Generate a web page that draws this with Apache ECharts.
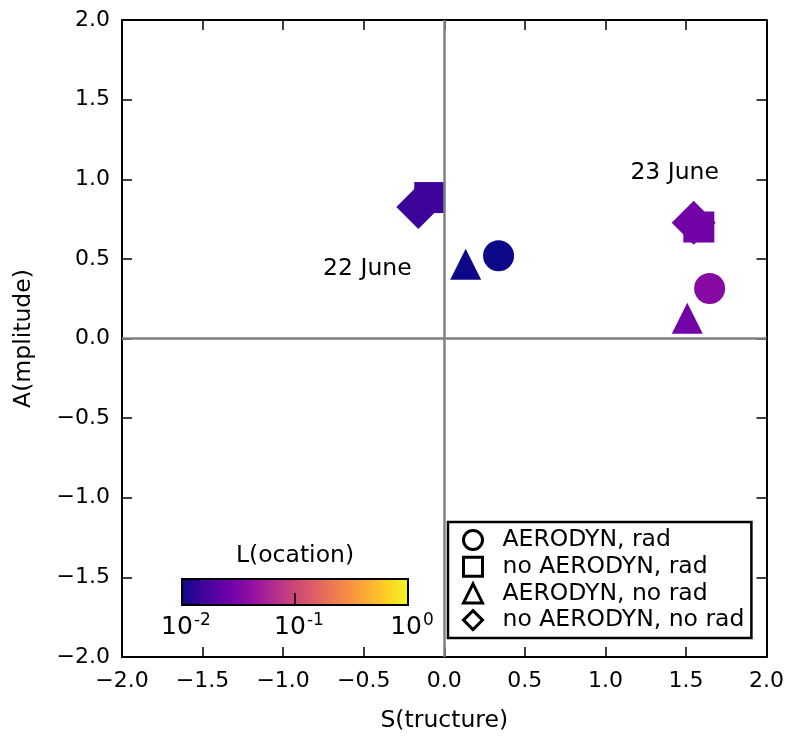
<!DOCTYPE html>
<html>
<head>
<meta charset="utf-8">
<script src="https://cdn.jsdelivr.net/npm/echarts@6/dist/echarts.min.js"></script>
<style>
  html, body { margin: 0; padding: 0; background: #fff; }
  #chart { width: 787px; height: 738px; }
</style>
</head>
<body>
<div id="chart"></div>
<script>
// Experiments (one marker shape each)
const experiments = ['AERODYN, rad', 'no AERODYN, rad', 'AERODYN, no rad', 'no AERODYN, no rad'];
const shapes = ['circle', 'rect', 'triangle', 'diamond'];
const shapeSizes = [31, 31, 31, 44];

// 22 June: S(tructure), A(mplitude), L(ocation) per experiment
const june22S = [0.337, -0.09, 0.133, -0.161];
const june22A = [0.52, 0.885, 0.466, 0.826];
const june22L = [0.010, 0.0151, 0.010, 0.0151];

// 23 June
const june23S = [1.647, 1.58, 1.508, 1.548];
const june23A = [0.314, 0.70, 0.127, 0.727];
const june23L = [0.036, 0.0275, 0.0275, 0.0275];

// Date annotations
const noteText = ['22 June', '23 June'];
const noteS = [-0.477, 1.43];
const noteA = [0.44, 1.043];

// Axis ticks and colour scale range (log10 of L)
const axisTicks = [-2.0, -1.5, -1.0, -0.5, 0.0, 0.5, 1.0, 1.5, 2.0];
const colorbarExponents = [-2, -1, 0];

const plasma = ['#0d0887', '#41049d', '#6a00a8', '#8f0da4', '#b12a90', '#cc4778',
                '#e16462', '#f2844b', '#fca636', '#fcce25', '#f0f921'];

const FONT = 'DejaVu Sans';
const TEXT = 23.5;
const TICK = 22;
const fmt = v => (v < 0 ? '\u2212' : '') + Math.abs(v).toFixed(1);

const chart = echarts.init(document.getElementById('chart'), null, { renderer: 'canvas' });

const expSeries = experiments.map((name, i) => ({
  name: name,
  type: 'scatter',
  symbol: shapes[i],
  symbolSize: shapeSizes[i],
  itemStyle: { opacity: 1 },
  z: 3,
  data: [
    [june22S[i], june22A[i], Math.log10(june22L[i])],
    [june23S[i], june23A[i], Math.log10(june23L[i])]
  ]
}));

const axisCommon = {
  type: 'value', min: axisTicks[0], max: axisTicks[axisTicks.length - 1], interval: 0.5,
  axisLine: { show: true, onZero: false, lineStyle: { color: '#000', width: 2 } },
  axisTick: { show: true, inside: true, length: 10, lineStyle: { color: '#000', width: 1.5 } },
  splitLine: { show: false },
  axisLabel: { fontFamily: FONT, fontSize: TICK, color: '#000', formatter: fmt }
};

// Colorbar geometry
const cbL = 182, cbT = 579, cbW = 226, cbH = 26;
const cbStops = plasma.map((c, i) => ({ offset: i / (plasma.length - 1), color: c }));
const cbMin = colorbarExponents[0], cbMax = colorbarExponents[colorbarExponents.length - 1];
const cbX = e => cbL + (e - cbMin) / (cbMax - cbMin) * cbW;

const graphics = [
  {
    type: 'rect', shape: { x: cbL, y: cbT, width: cbW, height: cbH },
    style: { fill: new echarts.graphic.LinearGradient(0, 0, 1, 0, cbStops), stroke: '#000', lineWidth: 2 },
    z: 10
  },
  {
    type: 'text', x: cbL + cbW / 2, y: 556,
    style: { text: 'L(ocation)', fontFamily: FONT, fontSize: TEXT, fill: '#000', align: 'center', verticalAlign: 'middle' },
    z: 10
  }
];
colorbarExponents.forEach((e, i) => {
  if (i > 0 && i < colorbarExponents.length - 1) {
    graphics.push({
      type: 'line', shape: { x1: cbX(e), y1: cbT + cbH - 12, x2: cbX(e), y2: cbT + cbH },
      style: { stroke: '#000', lineWidth: 1.5 }, z: 11
    });
  }
  graphics.push({
    type: 'text', x: cbX(e) + 4, y: 627,
    style: {
      text: '{b|10}{s|' + (e < 0 ? '-' : '') + Math.abs(e) + '}',
      align: 'center', verticalAlign: 'middle',
      rich: {
        b: { fontFamily: FONT, fontSize: 25, fill: '#000', color: '#000' },
        s: { fontFamily: FONT, fontSize: 17, fill: '#000', color: '#000', verticalAlign: 'top', padding: [0, 0, 12, 1] }
      }
    },
    z: 10
  });
});

const option = {
  backgroundColor: '#fff',
  animation: false,
  grid: { left: 122, right: 19, top: 20, bottom: 74, containLabel: false },
  xAxis: [
    Object.assign({}, axisCommon, {
      position: 'bottom',
      name: 'S(tructure)', nameLocation: 'middle', nameGap: 52,
      nameTextStyle: { fontFamily: FONT, fontSize: TEXT, color: '#000' },
      axisLabel: Object.assign({}, axisCommon.axisLabel, { margin: 13 })
    }),
    Object.assign({}, axisCommon, { position: 'top', axisLabel: { show: false } })
  ],
  yAxis: [
    Object.assign({}, axisCommon, {
      position: 'left',
      name: 'A(mplitude)', nameLocation: 'middle', nameGap: 86,
      nameTextStyle: { fontFamily: FONT, fontSize: TEXT, color: '#000' },
      axisLabel: Object.assign({}, axisCommon.axisLabel, { margin: 12 })
    }),
    Object.assign({}, axisCommon, { position: 'right', axisLabel: { show: false } })
  ],
  visualMap: {
    show: false, type: 'continuous', dimension: 2,
    min: cbMin, max: cbMax, seriesIndex: [0, 1, 2, 3],
    inRange: { color: plasma }
  },
  legend: {
    orient: 'vertical', left: 448, top: 522,
    data: experiments.map((n, i) => ({ name: n, icon: shapes[i] })),
    itemWidth: 19, itemHeight: 19, itemGap: 2.7,
    padding: [6, 7, 6, 14],
    borderColor: '#000', borderWidth: 2.5, borderRadius: 0,
    backgroundColor: '#fff',
    inactiveColor: '#000',
    itemStyle: { color: 'transparent', borderColor: '#000', borderWidth: 3 },
    textStyle: { fontFamily: FONT, fontSize: TEXT, lineHeight: 24, color: '#000', padding: [0, 0, 0, 15] },
    selectedMode: false
  },
  graphic: graphics,
  series: expSeries.concat([
    {
      name: 'zero lines', type: 'scatter', data: [], z: 5, silent: true,
      markLine: {
        silent: true, symbol: 'none', animation: false,
        label: { show: false },
        lineStyle: { color: '#808080', width: 2.5, type: 'solid', opacity: 1 },
        data: [{ xAxis: 0 }, { yAxis: 0 }]
      }
    },
    {
      name: 'dates', type: 'scatter', symbolSize: 0, z: 6, silent: true,
      itemStyle: { opacity: 1 },
      data: noteText.map((t, i) => ({ value: [noteS[i], noteA[i]], name: t })),
      label: {
        show: true, position: 'inside', formatter: p => p.name,
        fontFamily: FONT, fontSize: TEXT, color: '#000'
      }
    }
  ])
};
chart.setOption(option);
</script>
</body>
</html>
